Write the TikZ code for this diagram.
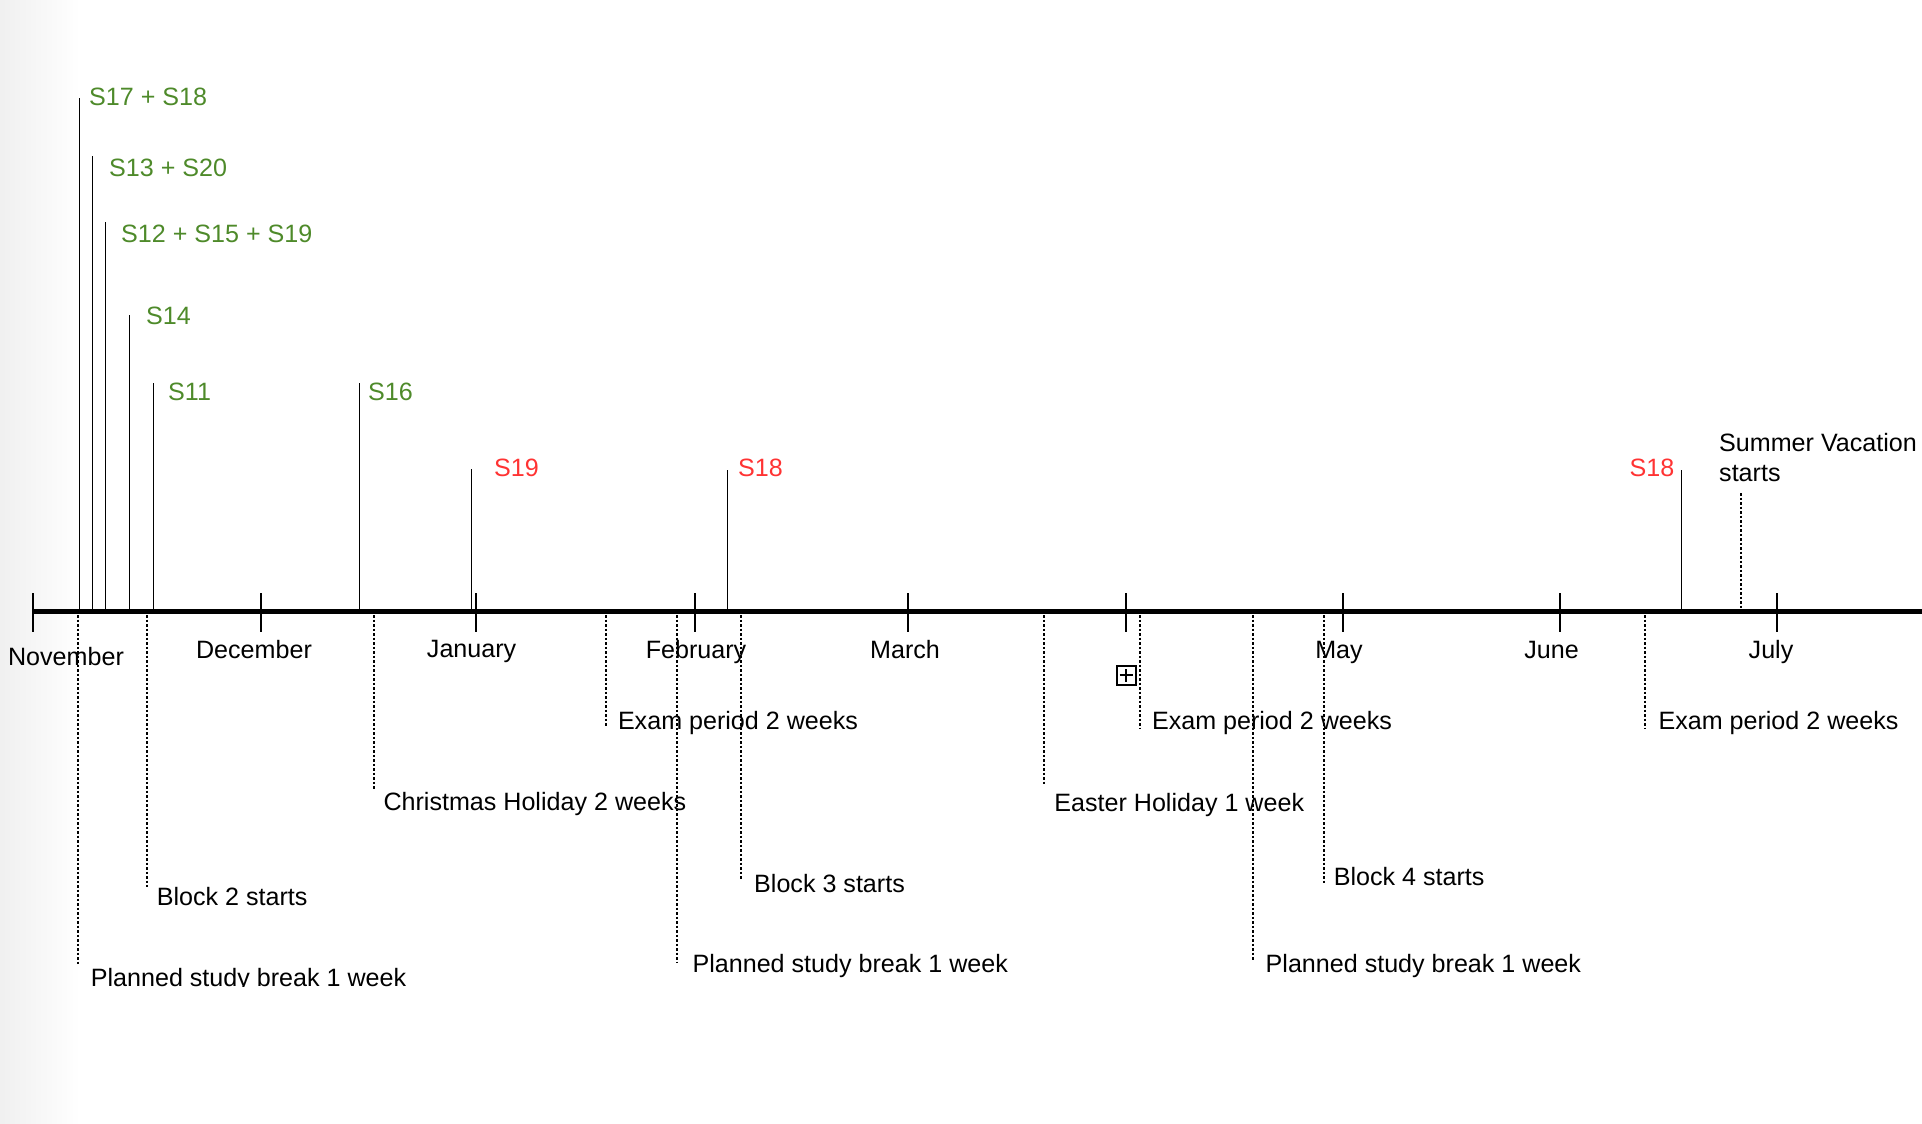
\documentclass[tikz,border=0pt]{standalone}
\usepackage{fontspec}
\setmainfont{Liberation Sans}
\definecolor{sgreen}{HTML}{4E8A2A}
\definecolor{sred}{HTML}{FF3333}
\begin{document}
\begin{tikzpicture}[x=1pt,y=-1pt,
  lbl/.style={inner sep=0pt, font=\fontsize{25.1}{30}\selectfont, anchor=base west, text=black},
  glbl/.style={lbl, text=sgreen},
  rlbl/.style={lbl, text=sred},
  mlbl/.style={lbl, anchor=base},
  axisline/.style={line width=5pt},
  tickline/.style={line width=2pt},
  markline/.style={line width=1.3pt},
  dotline/.style={line width=2pt, dash pattern=on 2.5pt off 2pt}]
\useasboundingbox (0,0) rectangle (1922,1124);
\shade[left color=black!6, right color=white, draw=none] (0,0) rectangle (80,1124);

% axis
\coordinate (axL) at (33,611.5);
\coordinate (axR) at (1922,611.5);
\draw[axisline] (axL) -- (axR);

% ticks
\foreach \n/\x in {nov/33,dec/261,jan/476,feb/695,mar/908,apr/1126,may/1343,jun/1560,jul/1777}{
  \coordinate (t\n a) at (\x,593);
  \coordinate (t\n b) at (\x,632);
  \draw[tickline] (t\n a) -- (t\n b);
}

% month labels
\node[mlbl] (mnov) at (66,665) {November};
\node[mlbl] (mdec) at (254,658) {December};
\node[mlbl] (mjan) at (471.6,657) {January};
\node[mlbl] (mfeb) at (696,658) {February};
\node[mlbl] (mmar) at (905,658) {March};
\node[mlbl] (mmay) at (1339,658) {May};
\node[mlbl] (mjun) at (1551.5,658) {June};
\node[mlbl] (mjul) at (1771,658) {July};

% solid marker lines
\foreach \n/\x/\y in {a/79.3/98,b/92.3/156,c/105.3/222,d/129.3/315,e/153.3/383,f/359.3/383,g/471.6/469,h/727.2/470,i/1681.3/470}{
  \coordinate (m\n top) at (\x,\y);
  \coordinate (m\n bot) at (\x,609);
  \draw[markline] (m\n top) -- (m\n bot);
}

% green / red labels
\node[glbl] (s1718) at (89,105) {S17 + S18};
\node[glbl] (s1320) at (109,176) {S13 + S20};
\node[glbl] (s121519) at (121,242) {S12 + S15 + S19};
\node[glbl] (s14) at (146,324) {S14};
\node[glbl] (s11) at (168,400) {S11};
\node[glbl] (s16) at (368,400) {S16};
\node[rlbl] (s19r) at (494,476.5) {S19};
\node[rlbl] (s18r) at (738,476.5) {S18};
\node[rlbl, anchor=base east] (s18r2) at (1674.5,476.5) {S18};

% summer vacation
\node[lbl, anchor=north west, align=left] (summer) at (1719,433.5) {Summer Vacation\\starts};
\coordinate (sumtop) at (1741,493);
\coordinate (sumbot) at (1741,609);
\draw[dotline] (sumtop) -- (sumbot);

% dotted lines below axis
\foreach \n/\x/\y in {a/77.7/965,b/146.7/887,c/373.7/789,d/606.3/727,e/677.1/963,f/741/880,g/1043.9/785,h/1140.3/728,i/1252.8/961,j/1324/883,k/1645/728}{
  \coordinate (d\n top) at (\x,615);
  \coordinate (d\n bot) at (\x,\y);
  \draw[dotline] (d\n top) -- (d\n bot);
}

% lower labels
\begin{scope}
  \clip (0,0) rectangle (1922,986.5);
  \node[lbl] (psb1) at (90.7,986) {Planned study break 1 week};
\end{scope}
\node[lbl] (blk2) at (156.7,905.7) {Block 2 starts};
\node[lbl] (xmas) at (383.3,810.7) {Christmas Holiday 2 weeks};
\node[lbl] (exam1) at (617.8,729) {Exam period 2 weeks};
\node[lbl] (psb2) at (692.4,972) {Planned study break 1 week};
\node[lbl] (blk3) at (754,892) {Block 3 starts};
\node[lbl] (easter) at (1054.2,811) {Easter Holiday 1 week};
\node[lbl] (exam2) at (1151.8,729) {Exam period 2 weeks};
\node[lbl] (psb3) at (1265.5,972) {Planned study break 1 week};
\node[lbl] (blk4) at (1333.6,885) {Block 4 starts};
\node[lbl] (exam3) at (1658.3,729.3) {Exam period 2 weeks};

% expand icon
\node[draw, line width=2pt, minimum size=19pt, inner sep=0pt] (icon) at (1126,675) {};
\draw[line width=1.6pt] ([xshift=-6.5pt]icon.center) -- ([xshift=6.5pt]icon.center);
\draw[line width=1.6pt] ([yshift=-6.5pt]icon.center) -- ([yshift=6.5pt]icon.center);
\end{tikzpicture}
\end{document}
